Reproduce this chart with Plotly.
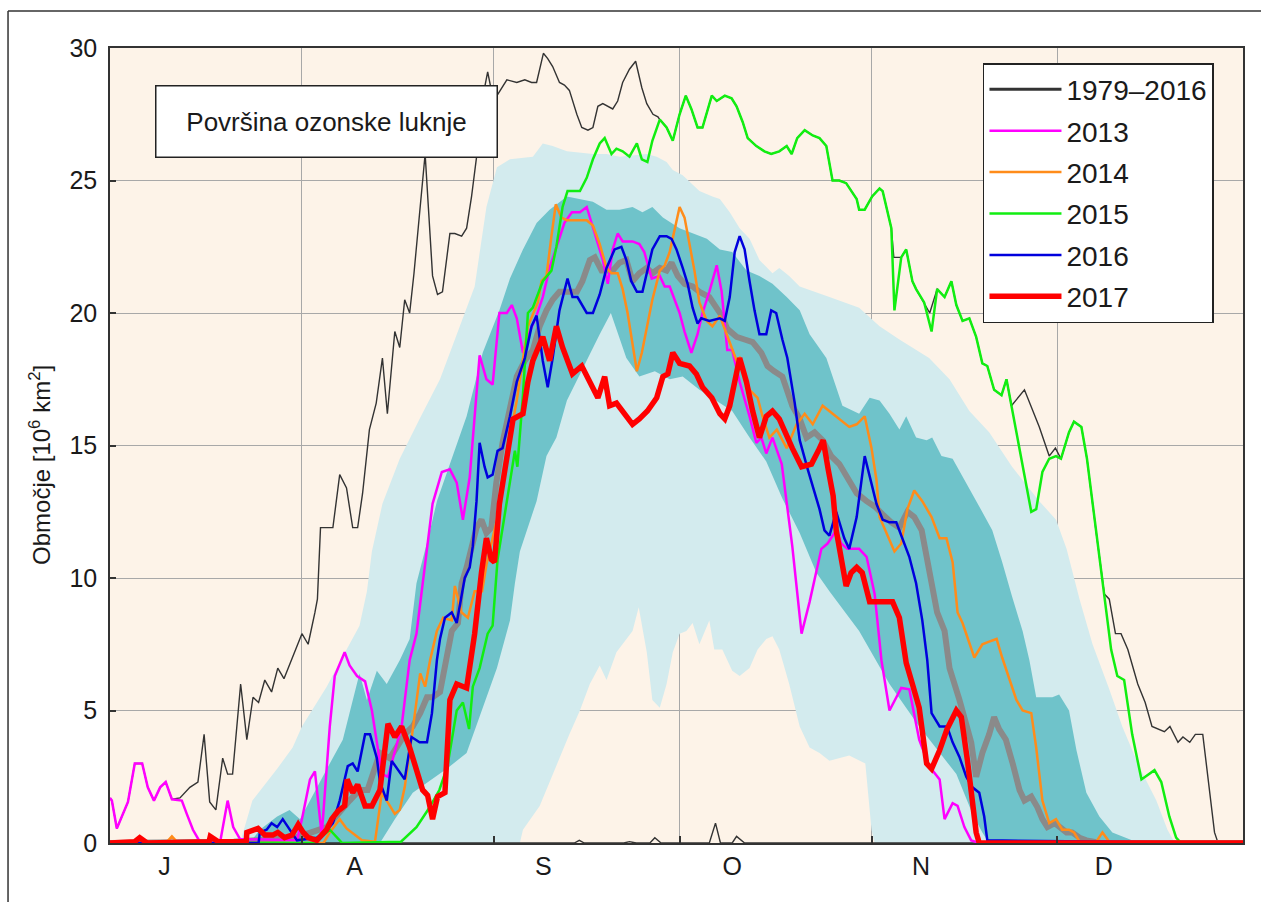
import plotly.graph_objects as go

# ---------------- data (x = days since 1 July, y = area in 10^6 km^2) ----------------
MONTHS = ["J", "A", "S", "O", "N", "D"]
MONTH_LABEL_DAY = [8.8, 39.5, 70.0, 100.5, 131.0, 160.5]
MONTH_START_DAY = [31, 62, 92, 123, 153]
Y_TICKS = [0, 5, 10, 15, 20, 25, 30]

# 10th-90th percentile band 1979-2016
P90_DAY = [21.0, 23.0, 27.0, 29.5, 31.0, 32.3, 35.0, 36.6, 40.3, 41.5, 42.3, 44.0, 46.8, 50.0, 53.3, 56.5, 58.9, 60.8,
           62.5, 64.6, 68.3, 69.9, 71.5, 73.8, 78.0, 80.2, 82.3, 86.7, 88.3, 89.9, 90.9, 92.5, 95.2, 97.3, 98.5, 100.1,
           101.7, 103.3, 104.9, 107.0, 108.1, 109.7, 111.4, 116.2, 121.0, 124.3, 127.5, 132.3, 135.6, 138.8, 142.0,
           145.7, 150.1, 152.8, 154.5, 156.6, 158.7, 161.4, 163.5, 166.2, 169.0, 170.8, 172.0]
P90_VAL = [0, 1.6, 2.8, 3.6, 4.4, 4.9, 5.9, 6.6, 8.2, 9.5, 11.0, 12.8, 14.5, 16.0, 17.5, 19.5, 21.0, 24.0,
           25.5, 25.8, 25.9, 26.4, 26.3, 26.1, 26.0, 26.0, 25.9, 26.0, 25.9, 25.7, 25.4, 25.2, 24.6, 24.4, 24.3, 23.8,
           23.2, 22.8, 22.0, 21.5, 21.7, 21.4, 21.0, 20.6, 20.2, 19.5, 19.0, 18.3, 17.5, 16.3, 15.5,
           14.2, 12.9, 12.2, 11.1, 9.2, 7.5, 5.8, 4.4, 2.9, 1.6, 0.5, 0]
P10_DAY = [0, 66.2, 66.7, 69.4, 72.1, 74.2, 75.9, 77.5, 79.1, 80.2, 81.8, 83.4, 84.4, 85.4, 86.7, 87.6, 88.8, 89.9,
           90.9, 92.0, 93.1, 94.1, 95.2, 96.8, 97.6, 98.9, 100.5, 101.7, 103.3, 104.6, 106.0, 107.0, 108.1, 109.7,
           111.4, 113.0, 114.6, 116.2, 119.4, 122.0, 123.0, 123.5, 183]
P10_VAL = [0, 0, 0.5, 1.4, 2.9, 4.1, 5.0, 6.0, 6.7, 6.15, 7.2, 7.7, 8.0, 8.9, 7.2, 5.4, 5.1, 6.0,
           7.2, 7.9, 8.0, 8.3, 7.5, 8.4, 7.3, 7.3, 6.5, 6.3, 6.6, 7.3, 7.7, 7.8, 7.3, 6.0,
           4.4, 3.6, 3.4, 3.1, 3.3, 3.0, 0.5, 0, 0]

# 30th-70th percentile band 1979-2016
P70_DAY = [22.6, 24.2, 27.0, 29.0, 30.7, 33.4, 35.5, 37.6, 40.3, 41.5, 43.1, 44.7, 46.8, 48.4, 49.5, 51.6, 52.8, 54.9,
           57.6, 60.2, 62.9, 64.6, 66.7, 68.9, 71.0, 73.8, 75.9, 78.0, 80.2, 82.3, 84.4, 86.0, 87.6, 89.3, 92.0, 94.1,
           96.4, 98.5, 100.5, 102.8, 104.9, 107.0, 109.3, 111.4, 113.0, 115.7, 118.3, 121.0, 122.7, 124.3, 125.9,
           127.5, 128.6, 130.2, 131.9, 132.8, 134.3, 136.1, 138.3, 140.4, 142.5, 144.1, 145.7, 147.4, 148.5, 149.6,
           152.2, 153.3, 154.9, 156.1, 157.7, 159.8, 161.9, 164.1, 166.2]
P70_VAL = [0, 0.5, 1.0, 1.25, 0.9, 2.1, 3.0, 3.9, 6.4, 5.4, 6.5, 6.0, 6.9, 7.7, 9.8, 11.7, 12.9, 14.3,
           16.1, 18.5, 20.1, 21.3, 22.4, 23.4, 23.9, 24.4, 24.3, 24.2, 23.9, 23.9, 24.0, 23.8, 24.0, 23.6, 23.2, 23.0,
           22.8, 22.4, 22.3, 21.6, 21.4, 21.1, 20.6, 20.1, 19.2, 18.3, 16.5, 16.2, 16.8, 16.7, 16.2,
           15.6, 16.1, 15.3, 15.2, 15.3, 14.6, 14.5, 13.6, 12.7, 11.8, 10.6, 9.3, 8.0, 6.9, 5.5,
           5.5, 5.6, 5.0, 3.5, 1.9, 1.0, 0.4, 0.2, 0]
P30_DAY = [0, 43.6, 46.0, 48.9, 54.4, 57.6, 60.2, 62.5, 64.6, 65.4, 66.2, 68.9, 70.5, 72.1, 73.8, 75.4, 77.0, 79.1,
           80.9, 83.4, 85.5, 88.0, 90.4, 92.5, 95.2, 97.3, 100.5, 103.3, 106.0, 108.6, 111.4, 114.1, 116.2, 121.0,
           125.9, 130.7, 134.0, 136.7, 139.3, 140.9, 142.0, 183]
P30_VAL = [0, 0, 0.9, 1.9, 2.8, 3.4, 5.1, 6.6, 8.4, 9.8, 11.0, 12.9, 14.6, 15.3, 16.7, 17.4, 18.2, 19.2,
           20.0, 18.3, 17.6, 17.8, 17.5, 17.6, 17.1, 16.8, 16.3, 15.3, 14.4, 13.0, 11.7, 10.2, 9.5, 8.0,
           6.0, 4.4, 3.4, 2.6, 1.1, 0.4, 0, 0]

# maximum 1979-2016
MAX_DAY = [0.0, 0.3, 1.1, 1.9, 2.9, 4.0, 5.2, 6.1, 7.1, 8.1, 9.0, 10.0, 11.3, 12.9, 14.2, 15.2, 16.1, 17.1, 18.2, 19.0,
           19.8, 21.1, 22.1, 23.1, 24.0, 25.0, 26.1, 27.1, 28.1, 31.0, 32.0, 33.1, 33.5, 34.0, 36.0, 37.1, 38.2, 39.2,
           40.0, 40.8, 41.9, 43.0, 44.0, 44.8, 46.0, 46.8, 47.6, 48.4, 49.1, 50.9, 52.1, 52.9, 53.7, 54.9, 55.7, 56.8,
           57.6, 58.4, 59.4, 59.7, 60.5, 61.0, 61.6, 62.5, 64.1, 65.7, 67.0, 68.1, 68.9, 70.0, 70.7, 71.5, 72.6, 73.4,
           74.2, 75.4, 76.2, 77.2, 78.0, 78.8, 79.6, 80.4, 81.2, 82.0, 82.8, 83.9, 84.9, 85.9, 86.7, 87.7, 88.5,
           88.8, 89.9, 90.9, 92.0, 93.0, 93.9, 94.9, 95.7, 97.2, 98.0, 99.3, 100.4, 101.2, 102.2, 103.0, 104.4, 105.7,
           106.8, 108.1, 109.3, 110.1, 111.0, 112.2, 113.5, 114.6, 115.7, 116.7, 117.8, 118.9, 120.6, 121.0, 121.9,
           123.1, 124.3, 124.8, 126.2, 126.6, 127.8, 128.6, 129.6, 130.2, 131.5, 132.4, 133.6, 134.8, 135.9, 136.7,
           137.7, 138.8, 139.9, 140.9, 141.7, 142.8, 144.0, 144.8, 145.6, 147.7, 150.1, 151.7, 152.7, 153.6, 154.9,
           155.7, 156.9, 157.8, 159.3, 160.6, 161.4, 162.4, 163.3, 164.4, 166.0, 167.2, 168.3, 170.3, 171.2, 172.5,
           173.3, 174.4, 175.3, 176.5, 178.4, 178.9, 183]
MAX_VAL = [1.7, 1.6, 0.55, 1.0, 1.55, 3.0, 3.0, 2.1, 1.6, 2.1, 2.3, 1.65, 1.7, 2.1, 2.3, 4.1, 1.55, 1.25, 3.2, 2.6,
           2.6, 6.0, 3.9, 5.5, 5.3, 6.15, 5.7, 6.6, 6.2, 7.9, 7.5, 8.7, 9.2, 11.9, 11.9, 13.9, 13.4, 11.9,
           11.9, 13.2, 15.6, 16.6, 18.3, 16.2, 19.3, 18.7, 20.5, 20.0, 21.5, 26.0, 21.4, 20.7, 20.8, 23.0, 23.0, 22.9,
           23.2, 24.4, 26.1, 26.8, 28.5, 29.1, 28.4, 28.2, 28.8, 28.7, 28.8, 28.7, 28.7, 29.8, 29.6, 29.3, 28.7, 28.6,
           28.4, 27.5, 27.0, 26.9, 27.0, 27.8, 27.9, 27.8, 27.7, 28.0, 28.7, 29.2, 29.5, 28.5, 27.9, 27.5, 27.4,
           27.3, 27.0, 26.5, 27.5, 28.2, 27.7, 27.0, 27.0, 28.2, 28.0, 28.2, 28.1, 27.8, 27.2, 26.6, 26.3, 26.1,
           26.0, 26.1, 26.3, 26.0, 26.6, 26.9, 26.7, 26.6, 26.3, 25.0, 25.0, 24.9, 24.3, 23.9, 23.9,
           24.4, 24.7, 24.6, 23.2, 22.1, 22.1, 22.4, 21.2, 20.9, 20.4, 20.0, 20.9, 20.6, 21.2, 20.3,
           19.7, 19.8, 19.1, 18.1, 18.0, 17.1, 16.9, 17.5, 16.5, 17.1, 15.7, 14.6, 14.9, 14.5, 15.5,
           15.9, 15.7, 14.5, 11.7, 9.4, 9.2, 7.9, 7.9, 7.3, 6.0, 5.3, 4.4, 4.2, 4.4, 3.8,
           4.0, 3.8, 4.1, 4.1, 0.4, 0.05, 0]

# minimum 1979-2016
MIN_DAY = [0, 75.0, 75.8, 76.6, 83.0, 83.9, 85.0, 87.2, 88.0, 89.0, 96.8, 97.8, 98.6, 100.5, 101.2, 102.5, 183]
MIN_VAL = [0, 0, 0.1, 0, 0, 0.05, 0, 0, 0.2, 0, 0, 0.75, 0, 0, 0.25, 0, 0]

# mean 1979-2016
MEAN_DAY = [0, 20, 30, 35, 38.7, 40.3, 41.6, 42.5, 43.6, 45.2, 46.3, 47.6, 48.9, 50.1, 51.2, 52.1, 53.3, 54.9, 55.2,
            56.2, 56.8, 57.6, 58.4, 59.2, 60.0, 60.8, 61.6, 62.4, 63.4, 64.6, 65.7, 67.0, 68.3, 69.4, 70.5, 71.5,
            72.6, 73.9, 75.4, 76.3, 77.5, 78.3, 79.4, 81.2, 82.3, 83.4, 84.4, 85.5, 86.7, 87.6, 88.8, 89.9, 90.7,
            91.7, 92.8, 94.1, 95.2, 96.8, 98.0, 98.8, 99.7, 101.2, 102.5, 103.8, 105.2, 106.2, 107.3, 108.6, 110.2,
            111.4, 112.5, 113.8, 115.1, 116.5, 117.8, 119.1, 120.6, 122.2, 123.5, 124.8, 126.2, 127.5, 128.8, 129.9,
            131.1, 131.9, 132.7, 133.6, 134.8, 135.6, 137.2, 138.3, 139.1, 139.9, 140.9, 142.0, 142.8, 143.6, 144.7,
            145.8, 146.9, 147.7, 148.8, 149.8, 150.6, 151.4, 152.6, 154.5, 155.4, 156.6, 157.7, 160, 183]
MEAN_VAL = [0, 0.05, 0.2, 0.6, 1.6, 2.0, 2.0, 2.6, 3.4, 3.2, 3.6, 4.1, 4.4, 4.9, 5.5, 5.5, 5.7, 7.5, 8.0,
            8.3, 9.8, 10.4, 11.1, 11.9, 12.2, 11.7, 11.9, 13.6, 15.1, 16.3, 17.6, 18.2, 18.6, 19.5, 20.1, 20.5,
            20.8, 20.8, 20.8, 21.2, 22.0, 22.1, 21.6, 21.6, 21.9, 22.0, 21.2, 21.5, 21.7, 21.5, 21.7, 21.6, 21.9,
            21.4, 21.1, 21.0, 20.8, 20.6, 20.2, 19.9, 19.4, 19.1, 19.0, 18.9, 18.5, 18.0, 17.8, 17.6, 16.5,
            16.0, 15.3, 15.5, 15.2, 14.6, 14.3, 13.8, 13.2, 12.9, 12.7, 12.4, 12.1, 11.9, 12.5, 12.3,
            11.8, 10.8, 9.8, 8.7, 8.0, 6.6, 5.4, 4.5, 3.8, 2.5, 3.4, 4.1, 4.75, 4.3, 3.9,
            3.0, 2.0, 1.6, 1.75, 1.35, 0.9, 0.6, 0.75, 0.4, 0.4, 0.2, 0.1, 0, 0]

DAY_2013 = [0.0, 0.3, 1.1, 1.9, 2.9, 4.0, 5.2, 6.1, 7.1, 8.1, 9.0, 10.0, 11.6, 12.4, 13.4, 14.5, 17.8, 19.0, 19.9, 21.0,
            30.2, 31.0, 32.3, 33.1, 33.9, 34.2, 35.5, 36.3, 37.9, 38.7, 39.9, 41.2, 42.3, 43.1, 43.9, 44.9, 46.0, 47.1,
            48.4, 49.5, 51.2, 52.1, 53.6, 54.9, 56.0, 57.0, 58.1, 58.9, 59.7, 60.8, 61.8, 62.9, 64.1, 64.9, 65.7, 66.7,
            67.8, 68.9, 69.9, 71.0, 72.1, 73.4, 74.6, 75.9, 77.0, 77.8, 78.8, 79.6, 80.4, 81.2, 82.0, 82.8, 84.4, 85.5,
            86.3, 87.5, 88.8, 89.6, 90.4, 91.2, 92.0, 92.8, 93.9, 94.9, 95.7, 96.8, 98.0, 98.8, 99.7, 100.5, 101.7,
            103.3, 104.4, 105.2, 106.0, 107.0, 108.5, 110.2, 111.7, 113.0, 114.9, 115.9, 117.3, 118.1, 119.1, 121.0,
            122.2, 123.5, 124.6, 125.9, 127.8, 129.1, 130.7, 132.3, 134.0, 134.8, 136.1, 136.9, 138.0, 139.1, 140.4, 183]
AREA_2013 = [1.7, 1.6, 0.55, 1.0, 1.55, 3.0, 3.0, 2.1, 1.6, 2.1, 2.3, 1.65, 1.6, 1.1, 0.5, 0.05, 0.05, 1.6, 0.6, 0.15,
             0.1, 0.9, 2.4, 2.7, 1.1, 0.3, 4.4, 6.3, 7.2, 6.7, 6.3, 6.1, 5.0, 3.8, 2.6, 2.5, 3.5, 4.4,
             6.9, 7.9, 11.1, 12.8, 14.0, 14.1, 13.6, 12.2, 13.8, 16.1, 18.4, 17.5, 17.3, 20.0, 20.0, 20.3, 19.8, 18.5,
             19.3, 19.9, 20.6, 21.7, 22.5, 23.4, 23.8, 23.8, 24.0, 23.4, 22.6, 22.0, 21.1, 22.4, 23.0, 22.7, 22.7, 22.6,
             22.3, 21.3, 21.4, 21.0, 21.0, 20.5, 20.0, 19.3, 18.5, 19.2, 20.0, 20.8, 21.8, 20.8, 18.6, 18.6, 17.4,
             16.1, 15.1, 15.3, 14.7, 15.3, 14.3, 11.2, 7.9, 9.1, 11.1, 11.3, 11.8, 11.3, 11.1, 11.1,
             10.8, 9.4, 6.9, 5.0, 5.85, 5.8, 3.9, 2.9, 2.4, 0.9, 1.5, 1.4, 0.6, 0.1, 0.0, 0.0]

DAY_2014 = [0, 9.0, 10.0, 11.0, 34.5, 35.5, 37.1, 38.2, 40.7, 42.8, 43.9, 44.9, 46.0, 46.8, 47.6, 48.8, 50.1, 50.9,
            51.7, 52.8, 53.8, 55.2, 55.7, 56.8, 57.8, 58.9, 60.1, 60.8, 62.9, 63.8, 65.7, 67.5, 69.1, 69.7, 70.5, 71.3,
            72.0, 72.9, 73.8, 75.4, 77.0, 78.0, 79.1, 80.2, 81.0, 82.0, 82.8, 83.6, 84.4, 85.1, 85.9, 86.7, 87.6, 88.8,
            89.6, 90.4, 91.2, 92.0, 92.8, 93.6, 94.4, 95.2, 96.4, 97.3, 98.5, 99.6, 100.4, 101.2, 101.7, 103.3, 104.6,
            105.4, 106.5, 107.7, 109.3, 110.9, 112.2, 113.5, 115.1, 116.7, 117.8, 119.4, 120.6, 121.9, 123.0, 123.8,
            124.3, 125.4, 126.7, 127.8, 128.8, 129.9, 131.2, 132.7, 134.0, 135.1, 136.1, 136.9, 137.7, 139.6, 140.9,
            142.0, 143.2, 144.1, 145.3, 146.4, 147.4, 148.8, 149.6, 150.6, 151.7, 152.8, 153.8, 154.9, 155.7, 156.6,
            159.3, 160.3, 161.4, 183]
AREA_2014 = [0, 0, 0.25, 0, 0, 0.4, 0.9, 0.55, 0.1, 0.05, 1.9, 1.5, 1.1, 1.25, 2.1, 4.1, 6.4, 5.9,
             6.9, 8.0, 8.5, 8.4, 9.7, 8.7, 8.5, 9.5, 9.5, 10.5, 12.6, 14.3, 16.7, 19.5, 20.4, 21.2, 21.4, 22.9,
             24.1, 23.6, 23.5, 23.5, 23.5, 23.3, 22.6, 21.7, 21.5, 21.5, 20.9, 20.0, 18.9, 17.8, 18.5, 19.4, 20.5, 21.6,
             21.8, 22.3, 23.2, 24.0, 23.6, 22.6, 21.6, 20.4, 19.7, 19.5, 19.9, 19.2, 18.7, 18.2, 18.3, 17.1, 16.8,
             16.1, 15.3, 15.6, 14.9, 15.8, 16.2, 15.8, 16.5, 16.2, 16.0, 15.7, 15.8, 16.1, 14.9, 13.7,
             12.3, 11.7, 11.0, 11.3, 12.6, 13.3, 12.9, 12.3, 11.5, 11.5, 10.6, 8.7, 8.3, 7.0, 7.5,
             7.6, 7.7, 7.0, 6.15, 5.4, 5.0, 4.9, 3.6, 1.6, 0.75, 0.9, 0.5, 0.5, 0.4, 0.05,
             0.05, 0.4, 0.05, 0]

DAY_2015 = [0, 33.0, 35.5, 37.5, 47.0, 49.5, 51.5, 53.2, 54.5, 55.3, 56.0, 57.0, 58.0, 58.6, 59.7, 61.0, 61.8, 62.6,
            64.6, 65.4, 65.8, 66.7, 67.5, 68.3, 69.9, 71.3, 72.1, 73.1, 73.9, 75.9, 77.0, 78.0, 79.1, 79.9, 81.0, 81.8,
            82.8, 83.9, 85.1, 85.9, 86.8, 87.6, 88.8, 89.9, 90.9, 92.0, 93.0, 93.9, 94.9, 95.7, 97.2, 98.0, 99.3, 100.4,
            101.2, 102.2, 103.0, 104.4, 105.7, 106.8, 108.1, 109.3, 110.1, 111.0, 112.2, 113.5, 114.6, 115.7, 116.7,
            117.8, 118.9, 120.6, 121.0, 121.9, 123.1, 124.3, 124.8, 126.2, 126.7, 127.8, 128.6, 129.6, 130.2, 131.5,
            132.7, 133.6, 134.8, 135.9, 136.7, 137.7, 138.8, 139.9, 140.9, 141.7, 142.8, 144.0, 144.8, 145.6, 146.4,
            147.4, 148.8, 149.6, 150.6, 151.7, 152.8, 153.6, 154.9, 155.7, 156.9, 157.8, 159.3, 160.6, 161.7, 162.7,
            163.8, 165.1, 166.6, 168.7, 169.8, 171.1, 172.2, 173.0, 183]
AREA_2015 = [0, 0, 0.5, 0, 0.05, 0.6, 1.3, 2.0, 2.9, 4.1, 5.0, 5.3, 4.3, 5.9, 6.6, 7.9, 8.2, 10.7,
             13.7, 14.8, 14.2, 16.9, 20.0, 20.2, 21.2, 21.6, 22.5, 24.0, 24.6, 24.6, 25.1, 25.8, 26.4, 26.6, 26.0, 26.2,
             26.1, 25.9, 26.4, 25.8, 25.7, 26.5, 27.3, 27.0, 26.5, 27.5, 28.2, 27.7, 27.0, 27.0, 28.2, 28.0, 28.2, 28.1,
             27.8, 27.2, 26.6, 26.3, 26.1, 26.0, 26.1, 26.3, 26.0, 26.6, 26.9, 26.7, 26.6, 26.3, 25.0,
             25.0, 24.9, 24.3, 23.9, 23.9, 24.4, 24.7, 24.6, 23.2, 20.1, 22.1, 22.4, 21.2, 20.9, 20.4,
             19.3, 20.9, 20.6, 21.2, 20.3, 19.7, 19.8, 19.1, 18.1, 18.0, 17.1, 16.9, 17.5, 16.5, 15.5,
             14.2, 12.5, 12.6, 14.0, 14.5, 14.6, 14.5, 15.5, 15.9, 15.7, 14.5, 11.7, 9.4, 7.3, 6.3,
             6.15, 4.1, 2.4, 2.75, 2.3, 1.0, 0.2, 0, 0]

DAY_2016 = [0, 24.0, 24.2, 25.3, 26.1, 27.0, 27.9, 29.1, 30.2, 33.4, 34.7, 36.0, 37.1, 38.4, 39.2, 40.0, 41.2, 42.0,
            43.1, 43.6, 44.7, 45.5, 46.5, 47.6, 48.7, 50.0, 51.2, 52.0, 52.8, 53.3, 54.1, 55.2, 56.0, 56.8, 57.3, 58.1,
            58.6, 59.2, 59.7, 60.5, 61.0, 61.8, 62.6, 63.4, 64.6, 65.7, 67.0, 68.1, 68.9, 69.9, 70.7, 71.5, 72.6, 73.9,
            74.7, 75.5, 77.0, 78.0, 79.1, 80.2, 81.5, 82.6, 83.4, 84.2, 85.1, 86.0, 86.8, 87.6, 88.8, 89.9, 90.7, 91.5,
            92.5, 93.3, 94.1, 94.9, 95.5, 96.8, 98.5, 99.3, 100.1, 100.9, 101.7, 102.5, 103.3, 104.1, 104.9, 106.0,
            106.8, 107.6, 108.6, 109.4, 110.6, 111.4, 112.7, 114.6, 115.4, 116.2, 117.3, 118.6, 119.4, 120.6, 121.9,
            122.7, 123.8, 124.8, 125.9, 127.0, 128.0, 129.1, 130.2, 131.2, 132.0, 132.7, 134.0, 135.2, 136.1, 137.2,
            138.3, 139.3, 140.4, 141.2, 141.7, 183]
AREA_2016 = [0, 0, 0.4, 0.5, 0.75, 0.6, 0.9, 0.5, 0.1, 0.2, 0.4, 0.75, 1.6, 2.9, 3.0, 2.7, 4.1, 4.1,
             3.2, 2.3, 1.6, 3.1, 2.75, 2.4, 4.0, 3.8, 3.8, 4.9, 6.9, 7.7, 8.5, 8.7, 8.3, 9.4, 10.0, 10.4,
             11.2, 12.9, 15.1, 14.2, 13.8, 13.9, 14.8, 14.9, 16.1, 17.4, 18.3, 19.5, 19.9, 18.2, 17.2, 18.3, 20.1, 21.3,
             20.6, 20.6, 20.0, 20.0, 20.7, 21.7, 22.4, 22.5, 22.0, 21.2, 20.8, 20.8, 21.6, 22.4, 22.9, 22.9, 22.8, 22.4,
             21.7, 21.1, 20.2, 19.6, 19.8, 19.7, 19.8, 19.7, 20.6, 22.3, 22.9, 22.4, 21.2, 20.1, 19.2, 19.2,
             20.1, 20.0, 19.0, 18.3, 16.6, 15.2, 14.1, 12.6, 11.8, 11.6, 12.5, 11.5, 11.1, 12.3, 14.6,
             13.8, 12.8, 12.2, 12.1, 12.1, 11.5, 10.8, 9.8, 8.4, 6.9, 4.9, 4.4, 4.4, 3.8, 3.25,
             2.5, 2.1, 1.9, 1.0, 0.1, 0]

DAY_2017 = [0, 4.0, 4.8, 6.0, 16.0, 16.2, 17.5, 22.0, 22.1, 23.9, 25.0, 26.3, 27.1, 28.2, 29.4, 30.4, 31.2, 32.0,
            33.4, 35.0, 35.8, 36.8, 37.9, 38.3, 39.2, 40.0, 41.2, 42.3, 43.6, 44.9, 46.0, 47.1, 48.4, 49.5, 50.5, 51.3,
            52.1, 52.9, 54.1, 54.9, 56.0, 57.6, 58.9, 60.0, 60.8, 61.6, 62.1, 62.9, 64.1, 65.1, 66.7, 67.5, 68.3, 69.1,
            69.9, 71.0, 72.1, 73.1, 74.7, 76.2, 77.5, 78.8, 79.9, 80.7, 81.8, 83.1, 84.4, 85.5, 86.8, 88.3, 89.3, 90.1,
            90.9, 92.0, 93.6, 94.7, 95.7, 97.2, 98.5, 99.3, 100.1, 101.7, 102.8, 103.8, 104.9, 106.0, 107.0, 108.1,
            109.3, 110.2, 111.7, 113.3, 114.4, 115.2, 116.0, 116.8, 117.3, 118.1, 118.9, 119.7, 120.6, 121.5, 122.7,
            123.5, 124.8, 126.4, 127.5, 128.6, 129.6, 130.7, 131.9, 132.7, 134.0, 135.2, 136.7, 137.5, 138.5, 139.3,
            139.9, 140.4, 183]
AREA_2017 = [0, 0.05, 0.2, 0, 0.05, 0.25, 0.05, 0.05, 0.4, 0.55, 0.3, 0.3, 0.4, 0.2, 0.3, 0.7, 0.4, 0.2,
             0.1, 0.5, 0.9, 1.2, 1.4, 2.4, 1.9, 2.2, 1.4, 1.4, 2.0, 4.5, 4.0, 4.4, 3.6, 2.8, 2.0, 1.8,
             0.9, 1.75, 1.9, 5.4, 6.0, 5.85, 7.9, 10.2, 11.5, 10.7, 10.6, 12.8, 14.6, 16.0, 16.2, 17.4, 18.2, 18.7,
             19.1, 18.2, 19.5, 18.7, 17.7, 18.0, 17.4, 16.8, 17.6, 16.5, 16.6, 16.2, 15.8, 16.0, 16.3, 16.8, 17.6, 17.7,
             18.5, 18.1, 18.0, 17.7, 17.2, 16.8, 16.2, 16.0, 16.5, 18.3, 17.4, 16.3, 15.3, 16.1, 16.3, 16.0,
             15.3, 14.9, 14.2, 14.3, 14.8, 15.2, 14.1, 13.1, 11.8, 10.6, 9.7, 10.2, 10.4, 10.2, 9.1,
             9.1, 9.1, 9.1, 8.5, 6.8, 6.0, 5.1, 3.0, 2.8, 3.5, 4.3, 5.0, 4.75, 3.1, 1.35,
             0.4, 0.0, 0]

for a, b in [(P90_DAY, P90_VAL), (P10_DAY, P10_VAL), (P70_DAY, P70_VAL), (P30_DAY, P30_VAL),
             (MAX_DAY, MAX_VAL), (MIN_DAY, MIN_VAL), (MEAN_DAY, MEAN_VAL), (DAY_2013, AREA_2013),
             (DAY_2014, AREA_2014), (DAY_2015, AREA_2015), (DAY_2016, AREA_2016), (DAY_2017, AREA_2017)]:
    assert len(a) == len(b), (len(a), len(b))

FONT = "Liberation Sans, Arial, Helvetica, sans-serif"
BG = "#fdf3e8"
LIGHT = "#d3ebee"
TEAL = "#6fc3ca"
HIST = "#333333"

fig = go.Figure()

# percentile bands
fig.add_trace(go.Scatter(x=P90_DAY + P10_DAY[::-1], y=P90_VAL + P10_VAL[::-1], fill="toself",
                         fillcolor=LIGHT, line=dict(width=0), mode="lines", showlegend=False, hoverinfo="skip"))
fig.add_trace(go.Scatter(x=P70_DAY + P30_DAY[::-1], y=P70_VAL + P30_VAL[::-1], fill="toself",
                         fillcolor=TEAL, line=dict(width=0), mode="lines", showlegend=False, hoverinfo="skip"))

# legend entry for the 1979-2016 extremes (drawn thicker in the legend, as in the original)
fig.add_trace(go.Scatter(x=[None], y=[None], mode="lines", name="1979–2016", legendgroup="g0",
                         line=dict(color=HIST, width=3)))
# historic extremes
fig.add_trace(go.Scatter(x=MAX_DAY, y=MAX_VAL, mode="lines", showlegend=False, legendgroup="g0",
                         line=dict(color=HIST, width=1.4)))
fig.add_trace(go.Scatter(x=MIN_DAY, y=MIN_VAL, mode="lines", showlegend=False, legendgroup="g0",
                         line=dict(color=HIST, width=1.4)))
# mean
fig.add_trace(go.Scatter(x=MEAN_DAY, y=MEAN_VAL, mode="lines", showlegend=False,
                         line=dict(color="#8a8a8a", width=6)))

years = [("2013", DAY_2013, AREA_2013, "#ff00ff", 2.5),
         ("2014", DAY_2014, AREA_2014, "#ff8c1a", 2.5),
         ("2015", DAY_2015, AREA_2015, "#11ee11", 2.5),
         ("2016", DAY_2016, AREA_2016, "#0000dd", 2.5),
         ("2017", DAY_2017, AREA_2017, "#ff0000", 5.5)]
for i, (nm, xs, ys, col, w) in enumerate(years):
    fig.add_trace(go.Scatter(x=xs, y=ys, mode="lines", name=nm, legendgroup=f"g{i+1}",
                             line=dict(color=col, width=w)))

axis_common = dict(showline=True, linecolor="#333333", linewidth=1.5, mirror=True,
                   gridcolor="#a8a8a8", gridwidth=1, zeroline=False,
                   tickfont=dict(family=FONT, size=25, color="#1a1a1a"))

fig.update_xaxes(range=[0, 183], tickmode="array", tickvals=MONTH_LABEL_DAY, ticktext=MONTHS,
                 showgrid=False, ticks="", ticklabelstandoff=0,
                 minor=dict(tickmode="array", tickvals=MONTH_START_DAY, showgrid=True,
                            gridcolor="#a8a8a8", gridwidth=1, ticks="inside", ticklen=7,
                            tickcolor="#333333", tickwidth=1.5),
                 **axis_common)
fig.update_yaxes(range=[0, 30], tickmode="array", tickvals=Y_TICKS, showgrid=True,
                 ticks="inside", ticklen=6, tickcolor="#333333", tickwidth=1.5, ticklabelstandoff=6,
                 **axis_common)

fig.update_layout(
    width=1261, height=902,
    margin=dict(l=110, r=18, t=48, b=59),
    paper_bgcolor="white", plot_bgcolor=BG,
    font=dict(family=FONT, color="#1a1a1a"),
    legend=dict(x=0.7705, y=0.981, xanchor="left", yanchor="top", bgcolor="white",
                bordercolor="#222222", borderwidth=1.5, font=dict(family=FONT, size=28, color="#1a1a1a"),
                traceorder="grouped", tracegroupgap=2, itemwidth=72),
    annotations=[
        dict(text="Površina ozonske luknje", xref="paper", yref="paper", x=0.0397, y=0.9535,
             xanchor="left", yanchor="top", showarrow=False, width=336, height=66,
             bgcolor="white", bordercolor="#222222", borderwidth=1.5, borderpad=2,
             font=dict(family=FONT, size=26, color="#1a1a1a")),
        dict(text="Območje [10<sup>6</sup> km<sup>2</sup>]", xref="paper", yref="paper",
             x=-0.0618, y=0.4755, xanchor="center", yanchor="middle", textangle=-90,
             showarrow=False, font=dict(family=FONT, size=24, color="#1a1a1a")),
    ],
    shapes=[
        dict(type="line", xref="paper", yref="paper", x0=-0.09, x1=1.02, y0=1.0465, y1=1.0465,
             line=dict(color="#333333", width=1.5)),
        dict(type="line", xref="paper", yref="paper", x0=-0.09, x1=-0.09, y0=1.0465, y1=-0.08,
             line=dict(color="#333333", width=1.5)),
    ],
)

fig.write_html("out.html", config={"displayModeBar": False},
               post_script="document.body.style.margin='0';")
